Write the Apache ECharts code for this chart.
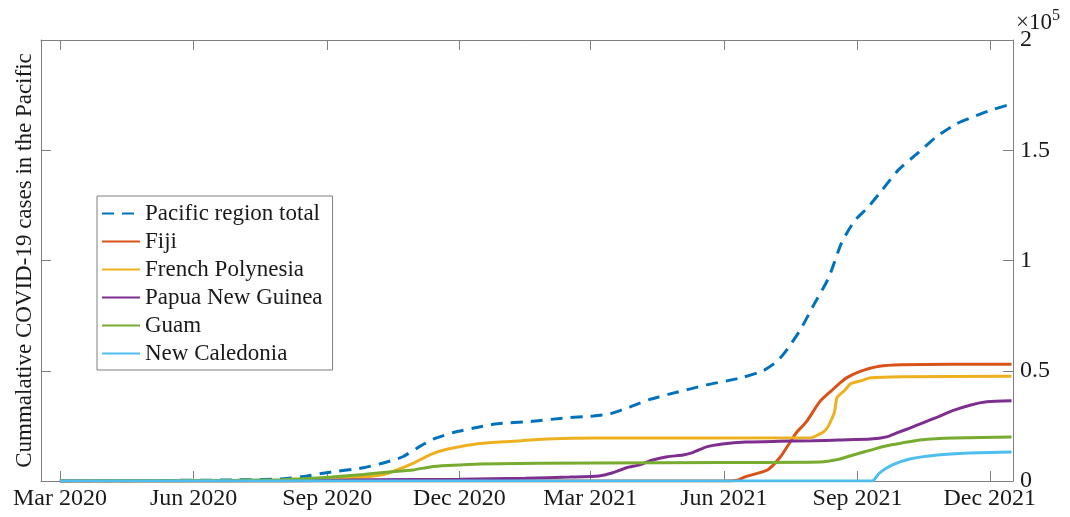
<!DOCTYPE html>
<html lang="en">
<head>
    <meta charset="UTF-8">
    <title>Cumulative COVID-19 cases in the Pacific</title>
    <script src="https://cdn.jsdelivr.net/npm/echarts@6/dist/echarts.min.js"></script>
    <style>
        html, body { margin: 0; padding: 0; background: #fff; }
        #chart { width: 1070px; height: 517px; }
    </style>
</head>
<body>
<div id="chart"></div>
<script>
    // tick positions on the date axis and their labels
    var tickDates = ['2020-03-01', '2020-06-01', '2020-09-01', '2020-12-01',
                     '2021-03-01', '2021-06-01', '2021-09-01', '2021-12-01'];
    var tickLabels = ['Mar 2020', 'Jun 2020', 'Sep 2020', 'Dec 2020',
                      'Mar 2021', 'Jun 2021', 'Sep 2021', 'Dec 2021'];

    var seriesNames = ['Pacific region total', 'Fiji', 'French Polynesia',
                       'Papua New Guinea', 'Guam', 'New Caledonia'];
    var seriesColors = ['#0072BD', '#D95319', '#EDB120', '#7E2F8E', '#77AC30', '#4DBEEE'];

    // values: [date, cumulative cases]
    var pacificTotal = [
        ['2020-03-01', 0], ['2020-05-01', 200], ['2020-07-01', 500], ['2020-08-01', 1000],
        ['2020-08-15', 2000], ['2020-09-03', 4000], ['2020-09-26', 6000], ['2020-10-12', 8600],
        ['2020-10-23', 11000], ['2020-11-02', 15000], ['2020-11-13', 19000], ['2020-11-27', 22000],
        ['2020-12-11', 24000], ['2020-12-27', 26000], ['2021-01-19', 27000], ['2021-02-10', 28500],
        ['2021-03-03', 29500], ['2021-03-15', 30500], ['2021-03-28', 33500], ['2021-04-11', 37000],
        ['2021-04-25', 39500], ['2021-05-09', 41800], ['2021-05-20', 43600], ['2021-06-03', 45400],
        ['2021-06-14', 47000], ['2021-06-28', 50000], ['2021-07-08', 54500], ['2021-07-16', 61000],
        ['2021-07-24', 69000], ['2021-08-02', 80000], ['2021-08-12', 92000], ['2021-08-21', 108000],
        ['2021-08-30', 118000], ['2021-09-08', 124000], ['2021-09-18', 132000], ['2021-09-29', 141000],
        ['2021-10-13', 149000], ['2021-10-25', 156000], ['2021-11-08', 162000], ['2021-11-19', 165000],
        ['2021-12-01', 168000], ['2021-12-16', 171000]
    ];
    var fiji = [
        ['2020-03-01', 0], ['2021-06-01', 0], ['2021-06-10', 300], ['2021-06-16', 2000],
        ['2021-07-01', 5000], ['2021-07-10', 11000], ['2021-07-16', 17000], ['2021-07-21', 22000],
        ['2021-07-28', 27000], ['2021-08-06', 36000], ['2021-08-15', 41500], ['2021-08-20', 44500],
        ['2021-08-25', 47000], ['2021-09-02', 49500], ['2021-09-16', 52000], ['2021-10-01', 52700],
        ['2021-11-04', 53000], ['2021-12-16', 53000]
    ];
    var frenchPolynesia = [
        ['2020-03-01', 0], ['2020-08-01', 100], ['2020-09-01', 800], ['2020-09-20', 1500],
        ['2020-10-08', 2700], ['2020-10-19', 5000], ['2020-10-30', 8000], ['2020-11-11', 12000],
        ['2020-11-23', 14500], ['2020-12-15', 17000], ['2021-01-07', 18000], ['2021-01-30', 19000],
        ['2021-03-06', 19500], ['2021-07-31', 19600], ['2021-08-05', 21000], ['2021-08-09', 22500],
        ['2021-08-12', 25000], ['2021-08-16', 31000], ['2021-08-18', 38000], ['2021-08-23', 41000],
        ['2021-08-27', 44000], ['2021-09-03', 45400], ['2021-09-10', 46800], ['2021-10-01', 47300],
        ['2021-12-16', 47500]
    ];
    var papuaNewGuinea = [
        ['2020-03-01', 0], ['2020-08-15', 100], ['2020-10-01', 600], ['2020-12-01', 800],
        ['2021-01-15', 1200], ['2021-02-15', 1800], ['2021-03-07', 2300], ['2021-03-16', 3600],
        ['2021-03-26', 6000], ['2021-04-04', 7300], ['2021-04-13', 9500], ['2021-04-23', 11000],
        ['2021-05-04', 11800], ['2021-05-11', 13000], ['2021-05-20', 15500], ['2021-05-31', 16800],
        ['2021-06-16', 17700], ['2021-07-09', 18000], ['2021-08-01', 18200], ['2021-08-19', 18600],
        ['2021-09-10', 19000], ['2021-09-21', 20000], ['2021-09-28', 21800], ['2021-10-07', 24000],
        ['2021-10-16', 26400], ['2021-10-26', 29000], ['2021-11-06', 32000], ['2021-11-18', 34500],
        ['2021-11-29', 35900], ['2021-12-16', 36400]
    ];
    var guam = [
        ['2020-03-01', 0], ['2020-05-01', 150], ['2020-07-01', 300], ['2020-08-01', 600],
        ['2020-08-15', 1000], ['2020-09-04', 1800], ['2020-09-26', 3000], ['2020-10-12', 4000],
        ['2020-10-30', 5000], ['2020-11-11', 6400], ['2020-11-23', 7000], ['2020-12-15', 7700],
        ['2021-03-06', 8200], ['2021-06-01', 8400], ['2021-08-06', 8600], ['2021-08-20', 10000],
        ['2021-08-29', 11800], ['2021-09-10', 14000], ['2021-09-21', 16000], ['2021-10-02', 17300],
        ['2021-10-14', 18600], ['2021-11-06', 19500], ['2021-12-16', 20000]
    ];
    var newCaledonia = [
        ['2020-03-01', 0], ['2021-09-11', 0], ['2021-09-16', 3600], ['2021-09-25', 7300],
        ['2021-10-07', 10000], ['2021-10-26', 11800], ['2021-11-17', 12700], ['2021-12-16', 13200]
    ];

    var seriesData = [pacificTotal, fiji, frenchPolynesia, papuaNewGuinea, guam, newCaledonia];

    // date string -> UTC milliseconds, used as a plain numeric x value
    function ts(s) {
        var p = s.split('-');
        return Date.UTC(+p[0], +p[1] - 1, +p[2]);
    }
    var tickValues = tickDates.map(ts);

    var font = '"Liberation Serif", "Times New Roman", serif';
    var axisColor = '#7f7f7f';

    var myChart = echarts.init(document.getElementById('chart'));

    function xAxisOf(pos, showLabel) {
        return {
            type: 'value',
            position: pos,
            min: ts('2020-02-17'),
            max: ts('2021-12-17'),
            axisLine: { show: true, onZero: false, lineStyle: { color: axisColor, width: 1 } },
            axisTick: { show: true, inside: true, length: 10, customValues: tickValues,
                        lineStyle: { color: axisColor } },
            axisLabel: {
                show: showLabel,
                customValues: tickValues,
                color: '#1a1a1a',
                fontFamily: font,
                fontSize: 24,
                margin: 6,
                formatter: function (v) {
                    var i = tickValues.indexOf(v);
                    return i >= 0 ? tickLabels[i] : '';
                }
            },
            splitLine: { show: false }
        };
    }

    function yAxisOf(pos, showLabel) {
        return {
            type: 'value',
            position: pos,
            min: 0,
            max: 200000,
            interval: 50000,
            name: pos === 'left' ? 'Cummalative COVID-19 cases in the Pacific' : '',
            nameLocation: 'middle',
            nameGap: 5,
            nameRotate: 90,
            nameTextStyle: { color: '#1a1a1a', fontFamily: font, fontSize: 23 },
            axisLine: { show: true, onZero: false, lineStyle: { color: axisColor, width: 1 } },
            axisTick: { show: true, inside: true, length: 10, lineStyle: { color: axisColor } },
            axisLabel: {
                show: showLabel,
                color: '#1a1a1a',
                fontFamily: font,
                fontSize: 24,
                margin: 7,
                formatter: function (v) { return String(v / 100000); }
            },
            splitLine: { show: false }
        };
    }

    var option = {
        animation: false,
        backgroundColor: '#fff',
        grid: { left: 41, right: 57, top: 40, bottom: 36, containLabel: false },
        xAxis: [xAxisOf('bottom', true), xAxisOf('top', false)],
        yAxis: [yAxisOf('left', false), yAxisOf('right', true)],
        legend: {
            orient: 'vertical',
            left: 97,
            top: 196,
            data: seriesNames,
            itemWidth: 38,
            itemHeight: 14,
            itemGap: 5,
            padding: [6, 10, 5, 4],
            borderColor: '#7f7f7f',
            borderWidth: 1,
            backgroundColor: '#fff',
            itemStyle: { opacity: 0 },
            textStyle: { color: '#1a1a1a', fontFamily: font, fontSize: 23, lineHeight: 23 }
        },
        graphic: [{
            type: 'text',
            left: 1016,
            top: 8,
            style: {
                text: '{a|×10}{b|5}',
                rich: {
                    a: { fontFamily: font, fontSize: 23, fill: '#1a1a1a', verticalAlign: 'bottom' },
                    b: { fontFamily: font, fontSize: 16, fill: '#1a1a1a', verticalAlign: 'top', padding: [0, 0, 10, 0] }
                }
            }
        }],
        series: seriesData.map(function (d, i) {
            return {
                name: seriesNames[i],
                type: 'line',
                xAxisIndex: 0,
                yAxisIndex: 1,
                showSymbol: false,
                symbol: 'none',
                smooth: 0.2,
                data: d.map(function (p) { return [ts(p[0]), p[1]]; }),
                lineStyle: {
                    color: seriesColors[i],
                    width: 3,
                    type: i === 0 ? [12, 8] : 'solid'
                },
                itemStyle: { color: seriesColors[i] },
                z: 2 + i
            };
        })
    };

    myChart.setOption(option);
</script>
</body>
</html>
